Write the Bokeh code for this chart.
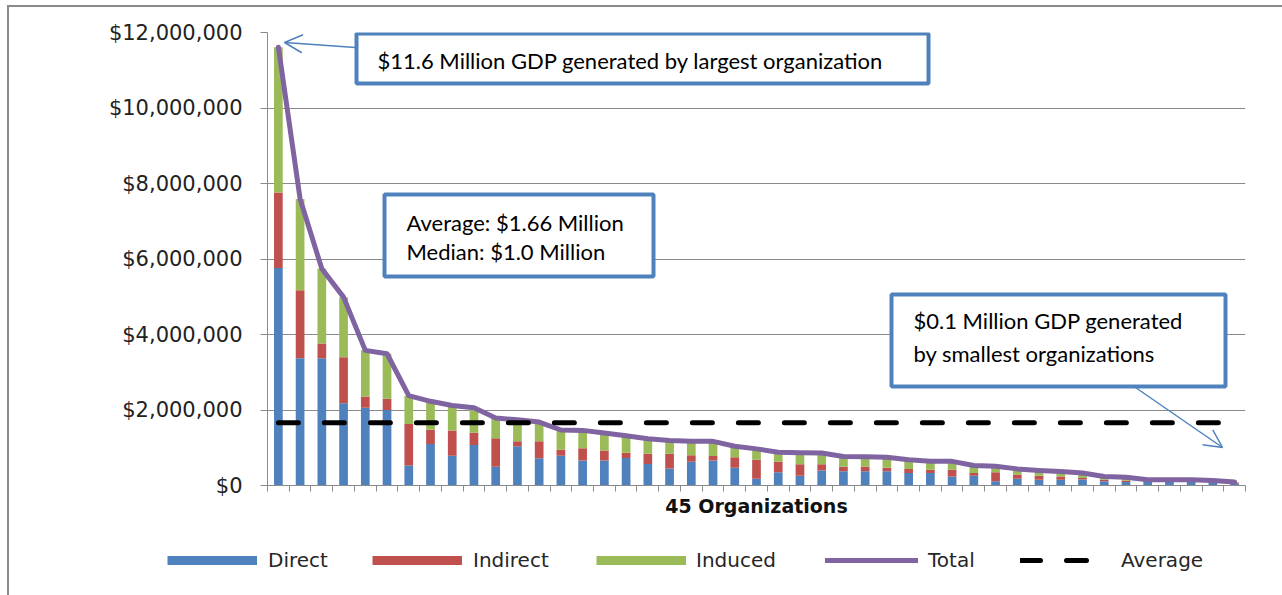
from bokeh.plotting import figure
from bokeh.layouts import column
from bokeh.models import (ColumnDataSource, Legend, LegendItem, Range1d, FixedTicker,
                          NumeralTickFormatter, BoxAnnotation, Label, Arrow, OpenHead)
from bokeh.embed import file_html
from bokeh.resources import INLINE

# ---------------- data (values in $ millions) ----------------
organizations = list(range(1, 46))
direct = [5.76, 3.37, 3.37, 2.18, 2.06, 2.00, 0.53, 1.10, 0.79, 1.07,
          0.50, 1.04, 0.72, 0.79, 0.66, 0.66, 0.73, 0.57, 0.45, 0.63,
          0.66, 0.47, 0.18, 0.35, 0.26, 0.40, 0.38, 0.38, 0.38, 0.33,
          0.33, 0.24, 0.26, 0.11, 0.18, 0.15, 0.15, 0.16, 0.11, 0.09,
          0.10, 0.10, 0.09, 0.09, 0.05]
indirect = [2.00, 1.80, 0.39, 1.22, 0.30, 0.30, 1.10, 0.38, 0.67, 0.33,
            0.75, 0.13, 0.45, 0.16, 0.33, 0.27, 0.14, 0.27, 0.39, 0.17,
            0.12, 0.28, 0.50, 0.28, 0.30, 0.16, 0.12, 0.12, 0.09, 0.11,
            0.09, 0.18, 0.07, 0.24, 0.11, 0.11, 0.09, 0.04, 0.04, 0.04,
            0.02, 0.02, 0.04, 0.02, 0.02]
induced = [3.85, 2.42, 1.98, 1.59, 1.22, 1.19, 0.75, 0.75, 0.66, 0.66,
           0.54, 0.57, 0.51, 0.52, 0.47, 0.46, 0.45, 0.40, 0.35, 0.37,
           0.39, 0.29, 0.29, 0.25, 0.31, 0.30, 0.27, 0.26, 0.28, 0.24,
           0.22, 0.22, 0.20, 0.16, 0.15, 0.14, 0.13, 0.13, 0.09, 0.09,
           0.03, 0.03, 0.02, 0.02, 0.02]
average_musd = 1.66
y_ticks = [0, 2000000, 4000000, 6000000, 8000000, 10000000, 12000000]
series_names = ["Direct", "Indirect", "Induced"]
series_colors = ["#4F81BD", "#C0504D", "#9BBB59"]
total_color = "#8064A2"
M = 1000000

d_usd = [v * M for v in direct]
i_usd = [v * M for v in indirect]
n_usd = [v * M for v in induced]
total_usd = [a + b + c for a, b, c in zip(d_usd, i_usd, n_usd)]
avg_usd = [average_musd * M] * len(organizations)

src = ColumnDataSource(dict(org=organizations, Direct=d_usd, Indirect=i_usd,
                            Induced=n_usd, total=total_usd, avg=avg_usd))

# page geometry: canvas origin at (CX, CY) in page pixels
CX, CY = 9, 7
W = 1282 - CX
FL, FR, FT, FB = 267.0, 1245.0, 32.0, 485.0   # plot frame in page pixels
SPLIT = 538                                    # page y where the legend strip starts
H1 = SPLIT - CY
H2 = 595 - SPLIT

p = figure(width=W, height=H1, output_backend="svg", toolbar_location=None,
           x_range=Range1d(0.5, 45.5), y_range=Range1d(0, 12000000),
           min_border_left=int(FL - CX), min_border_right=int(CX + W - FR),
           min_border_top=int(FT - CY), min_border_bottom=int(SPLIT - FB))
p.outline_line_color = None
p.background_fill_color = "white"
p.border_fill_color = "white"

def X(px):
    return 0.5 + (px - FL) / ((FR - FL) / 45.0)
def Y(py):
    return (FB - py) * 12000000 / (FB - FT)

bars = p.vbar_stack(series_names, x="org", width=0.4, color=series_colors,
                    line_color=None, source=src)
tot = p.line("org", "total", source=src, line_color=total_color, line_width=5,
             line_join="round", line_cap="round")
avg = p.line("org", "avg", source=src, line_color="black", line_width=5,
             line_dash="20 26", line_cap="round")

# axes
p.xgrid.visible = False
p.ygrid.ticker = FixedTicker(ticks=y_ticks)
p.ygrid.grid_line_color = "#8a8a8a"
p.ygrid.grid_line_width = 1

p.yaxis.ticker = FixedTicker(ticks=y_ticks)
p.yaxis.formatter = NumeralTickFormatter(format="$0,0")
p.yaxis.major_label_text_font = "DejaVu Sans"
p.yaxis.major_label_text_font_size = "21px"
p.yaxis.major_label_text_color = "#222222"
p.yaxis.major_tick_out = 7
p.yaxis.major_tick_in = 0
p.yaxis.minor_tick_line_color = None
p.yaxis.axis_line_color = "#8a8a8a"
p.yaxis.major_tick_line_color = "#8a8a8a"
p.yaxis.major_label_standoff = 18

p.xaxis.ticker = FixedTicker(ticks=[],
                             minor_ticks=[o - 0.5 for o in organizations] + [organizations[-1] + 0.5])
p.xaxis.minor_tick_out = 6
p.xaxis.minor_tick_in = 0
p.xaxis.minor_tick_line_color = "#8a8a8a"
p.xaxis.axis_line_color = "#8a8a8a"
p.xaxis.major_label_standoff = 0
p.xaxis.axis_label = "45 Organizations"
p.xaxis.axis_label_text_font = "DejaVu Sans"
p.xaxis.axis_label_text_font_style = "bold"
p.xaxis.axis_label_text_font_size = "19px"
p.xaxis.axis_label_text_color = "#111111"
p.xaxis.axis_label_standoff = 3

# annotation boxes
blue = "#4F81BD"
boxes = [(356, 928, 33, 83), (384, 653, 194, 276), (891, 1225, 294, 386)]
for l, r, t, b in boxes:
    p.add_layout(BoxAnnotation(left=X(l), right=X(r), top=Y(t), bottom=Y(b),
                               fill_color="white", fill_alpha=1.0,
                               line_color=blue, line_width=4, line_alpha=1.0))

texts = [("$11.6 Million GDP generated by largest organization", 377, 60),
         ("Average: $1.66 Million", 406, 222),
         ("Median: $1.0 Million", 406, 251),
         ("$0.1 Million GDP generated", 913, 320),
         ("by smallest organizations", 913, 353)]
for t, px, py in texts:
    p.add_layout(Label(x=X(px), y=Y(py), text=t, text_font="Lato",
                       text_font_size="22px", text_color="black",
                       text_baseline="middle", text_align="left"))

for (x0, y0, x1, y1) in [(355, 47, 284, 42), (1135, 387, 1222, 447)]:
    p.add_layout(Arrow(end=OpenHead(size=18, line_color=blue, line_width=1.5),
                       x_start=X(x0), y_start=Y(y0), x_end=X(x1), y_end=Y(y1),
                       line_color=blue, line_width=1.5))

# ---------------- legend strip (second figure) ----------------
q = figure(width=W, height=H2, output_backend="svg", toolbar_location=None,
           x_range=Range1d(0, 1), y_range=Range1d(0, 1),
           x_axis_location=None, y_axis_location=None, min_border=0)
q.frame_align = False
q.xgrid.visible = False
q.ygrid.visible = False
q.outline_line_color = None
q.border_fill_color = "white"
q.background_fill_color = "white"
# proxies: same data, far outside this strip's ranges, so only their legend glyphs show
sw = [q.line("org", name, source=src, line_color=c, line_width=9)
      for name, c in zip(series_names, series_colors)]
sw_tot = q.line("org", "total", source=src, line_color=total_color, line_width=5,
                line_cap="round")
sw_avg = q.line("org", "avg", source=src, line_color="black", line_width=5,
                line_dash="20 26", line_cap="round")

LEG_Y = 559.5  # page y of legend row centre
leg_specs = [(series_names[0], sw[0], 167, 90, 11),
             (series_names[1], sw[1], 372, 90, 11),
             (series_names[2], sw[2], 596, 90, 10),
             ("Total", sw_tot, 825, 93, 10),
             ("Average", sw_avg, 1020, 75, 26)]
for label, r, gx, gw, so in leg_specs:
    lg = Legend(items=[LegendItem(label=label, renderers=[r])],
                location=(int(gx - CX), int(H2 - (LEG_Y - SPLIT) - 12)),
                orientation="horizontal",
                glyph_width=gw, glyph_height=12, label_height=20,
                label_standoff=so, padding=0, margin=0, spacing=0,
                border_line_color=None, background_fill_alpha=0,
                label_text_font="DejaVu Sans", label_text_font_size="20px",
                label_text_color="#262626")
    q.add_layout(lg)

layout = column(p, q, spacing=0)
layout.styles = {"margin-left": f"{CX - 2}px", "margin-top": f"{CY - 2}px",
                 "border-left": "2px solid #8a8a8a", "border-top": "2px solid #8a8a8a"}

open("out.html", "w").write(file_html(layout, INLINE))
